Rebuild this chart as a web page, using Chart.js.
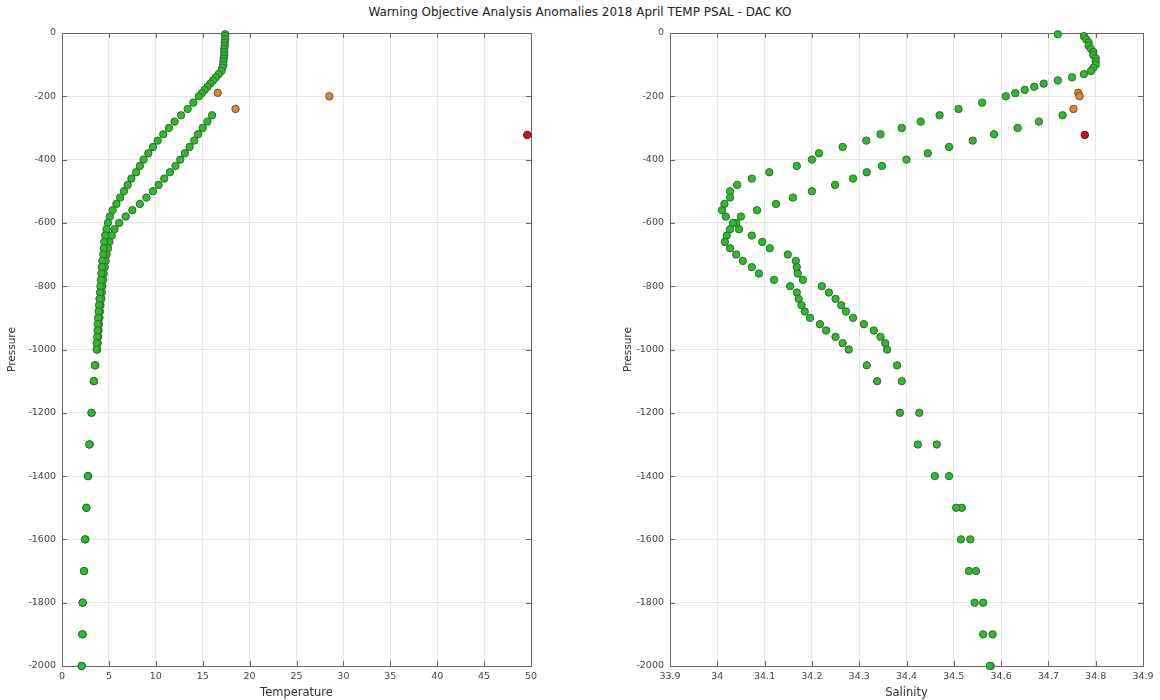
<!DOCTYPE html>
<html>
<head>
<meta charset="utf-8">
<script src="https://cdn.jsdelivr.net/npm/chart.js@4.4.1/dist/chart.umd.min.js"></script>
<style>
  body { margin: 0; background: #fff; }
  #wrap { position: relative; width: 1160px; height: 700px; }
  #title {
    position: absolute; left: 0; top: 5px; width: 1160px; text-align: center;
    font: 12px "DejaVu Sans", sans-serif; color: #222;
  }
  canvas { position: absolute; top: 0; }
</style>
</head>
<body>
<div id="wrap">
  <div id="title">Warning Objective Analysis Anomalies 2018 April TEMP PSAL - DAC KO</div>
  <canvas id="tempChart" width="580" height="700" style="left:0"></canvas>
  <canvas id="psalChart" width="580" height="700" style="left:580px"></canvas>
</div>
<script>
// profile A (from surface)
const pressA = [4, 10, 20, 30, 40, 50, 60, 70, 80, 90, 100, 110, 120,
  130, 140, 150, 160, 170, 180, 190, 200,
  220, 240, 260, 280, 300, 320, 340, 360, 380, 400, 420, 440, 460, 480, 500,
  520, 540, 560, 580, 600, 620, 640, 660, 680, 700, 720, 740, 760, 780, 800,
  820, 840, 860, 880, 900, 920, 940, 960, 980, 1000,
  1050, 1100, 1200, 1300, 1400, 1500, 1600, 1700, 1800, 1900, 2000];
const tempA = [17.4, 17.4, 17.4, 17.35, 17.35, 17.3, 17.3, 17.3, 17.25, 17.2, 17.2, 17.1, 17.0,
  16.7, 16.4, 16.1, 15.8, 15.5, 15.2, 14.9, 14.6,
  14.0, 13.4, 12.7, 12.0, 11.4, 10.8, 10.2, 9.7, 9.2, 8.7, 8.3, 7.9, 7.4, 7.0, 6.6,
  6.2, 5.8, 5.4, 5.1, 4.9, 4.75, 4.6, 4.5, 4.45, 4.4, 4.3, 4.25, 4.2, 4.15, 4.1,
  4.05, 4.0, 3.95, 3.9, 3.85, 3.8, 3.8, 3.75, 3.7, 3.7,
  3.5, 3.4, 3.15, 2.9, 2.75, 2.6, 2.45, 2.35, 2.2, 2.15, 2.1];
const psalA = [34.72, 34.775, 34.78, 34.785, 34.785, 34.79, 34.795, 34.795, 34.8, 34.8, 34.8, 34.795, 34.79,
  34.775, 34.75, 34.72, 34.69, 34.67, 34.65, 34.63, 34.61,
  34.56, 34.51, 34.47, 34.43, 34.39, 34.345, 34.315, 34.265, 34.215, 34.2, 34.168, 34.11, 34.073, 34.042, 34.027,
  34.027, 34.015, 34.01, 34.018, 34.033, 34.027, 34.02, 34.016, 34.027, 34.04, 34.054, 34.073, 34.088, 34.12, 34.154,
  34.168, 34.172, 34.178, 34.185, 34.196, 34.217, 34.23, 34.25, 34.265, 34.278,
  34.316, 34.338, 34.386, 34.424, 34.46, 34.505, 34.515, 34.532, 34.544, 34.562, 34.576];

// profile B (starts deeper)
const pressB = [260, 280, 300, 320, 340, 360, 380, 400, 420, 440, 460, 480, 500,
  520, 540, 560, 580, 600, 620, 640, 660, 680, 700, 720, 740, 760, 780, 800,
  820, 840, 860, 880, 900, 920, 940, 960, 980, 1000,
  1050, 1100, 1200, 1300, 1400, 1500, 1600, 1700, 1800, 1900, 2000];
const tempB = [16.0, 15.5, 15.0, 14.5, 14.1, 13.6, 13.1, 12.6, 12.1, 11.5, 10.9, 10.3, 9.7,
  9.0, 8.3, 7.5, 6.8, 6.1, 5.6, 5.3, 5.05, 4.9, 4.75, 4.65, 4.55, 4.45, 4.4, 4.3,
  4.25, 4.2, 4.1, 4.05, 4.0, 3.95, 3.9, 3.85, 3.8, 3.75,
  3.55, 3.4, 3.15, 2.95, 2.8, 2.6, 2.5, 2.35, 2.2, 2.2, 2.1];
const psalB = [34.73, 34.68, 34.635, 34.585, 34.54, 34.49, 34.445, 34.4, 34.348, 34.316, 34.287, 34.249, 34.2,
  34.16, 34.124, 34.084, 34.05, 34.04, 34.046, 34.073, 34.095, 34.111, 34.149, 34.166, 34.168, 34.17, 34.181, 34.221,
  34.236, 34.25, 34.262, 34.272, 34.287, 34.31, 34.331, 34.345, 34.355, 34.359,
  34.38, 34.39, 34.427, 34.464, 34.49, 34.517, 34.535, 34.547, 34.562, 34.582, 34.578];

// flagged points
const pressOrange = [189, 200, 240];
const tempOrange = [16.6, 28.5, 18.5];
const psalOrange = [34.763, 34.766, 34.753];
const pressRed = [322];
const tempRed = [49.6];
const psalRed = [34.777];

const pressTicks = [0, -200, -400, -600, -800, -1000, -1200, -1400, -1600, -1800, -2000];

function pts(xs, ps) {
  return xs.map((v, i) => ({ x: v, y: -ps[i] }));
}

function sets(a, b, o, r) {
  const base = { pointRadius: 3.7, pointBorderWidth: 1, showLine: false, clip: false };
  return [
    { ...base, data: a, backgroundColor: "#30b830", borderColor: "#2e6a2e" },
    { ...base, data: b, backgroundColor: "#30b830", borderColor: "#2e6a2e" },
    { ...base, data: o, backgroundColor: "#d88a3a", borderColor: "#7a4a1a" },
    { ...base, data: r, backgroundColor: "#c21a1a", borderColor: "#6a0a0a" },
  ];
}

// MATLAB-like box with inner tick marks
const boxPlugin = {
  id: "box",
  beforeDatasetsDraw(chart) {
    const { ctx, chartArea: a, scales } = chart;
    ctx.save();
    ctx.strokeStyle = "#666";
    ctx.lineWidth = 1;
    ctx.strokeRect(a.left + 0.5, a.top + 0.5, a.width, a.height);
    ctx.beginPath();
    scales.x.ticks.forEach((t) => {
      const px = Math.round(scales.x.getPixelForValue(t.value)) + 0.5;
      ctx.moveTo(px, a.bottom); ctx.lineTo(px, a.bottom - 5);
      ctx.moveTo(px, a.top); ctx.lineTo(px, a.top + 5);
    });
    scales.y.ticks.forEach((t) => {
      const py = Math.round(scales.y.getPixelForValue(t.value)) + 0.5;
      ctx.moveTo(a.left, py); ctx.lineTo(a.left + 5, py);
      ctx.moveTo(a.right, py); ctx.lineTo(a.right - 5, py);
    });
    ctx.stroke();
    ctx.restore();
  },
};

const tickFont = { family: "DejaVu Sans, sans-serif", size: 9.5 };

function makeChart(id, datasets, xMin, xMax, xStep, xFmt, xTitle, padLeft, yW, padRight) {
  return new Chart(document.getElementById(id), {
    type: "scatter",
    data: { datasets },
    plugins: [boxPlugin],
    options: {
      responsive: false,
      animation: false,
      layout: { padding: { top: 33, right: padRight, left: padLeft, bottom: 0 } },
      plugins: { legend: { display: false }, tooltip: { enabled: false } },
      scales: {
        x: {
          type: "linear", min: xMin, max: xMax,
          ticks: { stepSize: xStep, callback: xFmt, color: "#444", font: tickFont, padding: 5, maxRotation: 0, autoSkip: false },
          grid: { color: "#e6e6e6", drawTicks: false },
          border: { display: false },
          title: { display: true, text: xTitle, color: "#333", font: { family: "DejaVu Sans, sans-serif", size: 11.5 }, padding: 0 },
          afterFit: (s) => { s.height = 34; },
        },
        y: {
          type: "linear", min: -2000, max: 0,
          afterBuildTicks: (s) => { s.ticks = pressTicks.map((v) => ({ value: v })); },
          ticks: { color: "#444", font: tickFont, padding: 6, callback: (v) => String(v) },
          grid: { color: "#e6e6e6", drawTicks: false },
          border: { display: false },
          title: { display: true, text: "Pressure", color: "#333", font: { family: "DejaVu Sans, sans-serif", size: 10.5 }, padding: 0 },
          afterFit: (s) => { s.width = yW; },
        },
      },
    },
  });
}

makeChart("tempChart",
  sets(pts(tempA, pressA), pts(tempB, pressB), pts(tempOrange, pressOrange), pts(tempRed, pressRed)),
  0, 50, 5, (v) => String(v), "Temperature", 6, 56, 49);

makeChart("psalChart",
  sets(pts(psalA, pressA), pts(psalB, pressB), pts(psalOrange, pressOrange), pts(psalRed, pressRed)),
  33.9, 34.9, 0.1, (v) => String(Math.round(v * 10) / 10), "Salinity", 42, 48, 17);
</script>
</body>
</html>
